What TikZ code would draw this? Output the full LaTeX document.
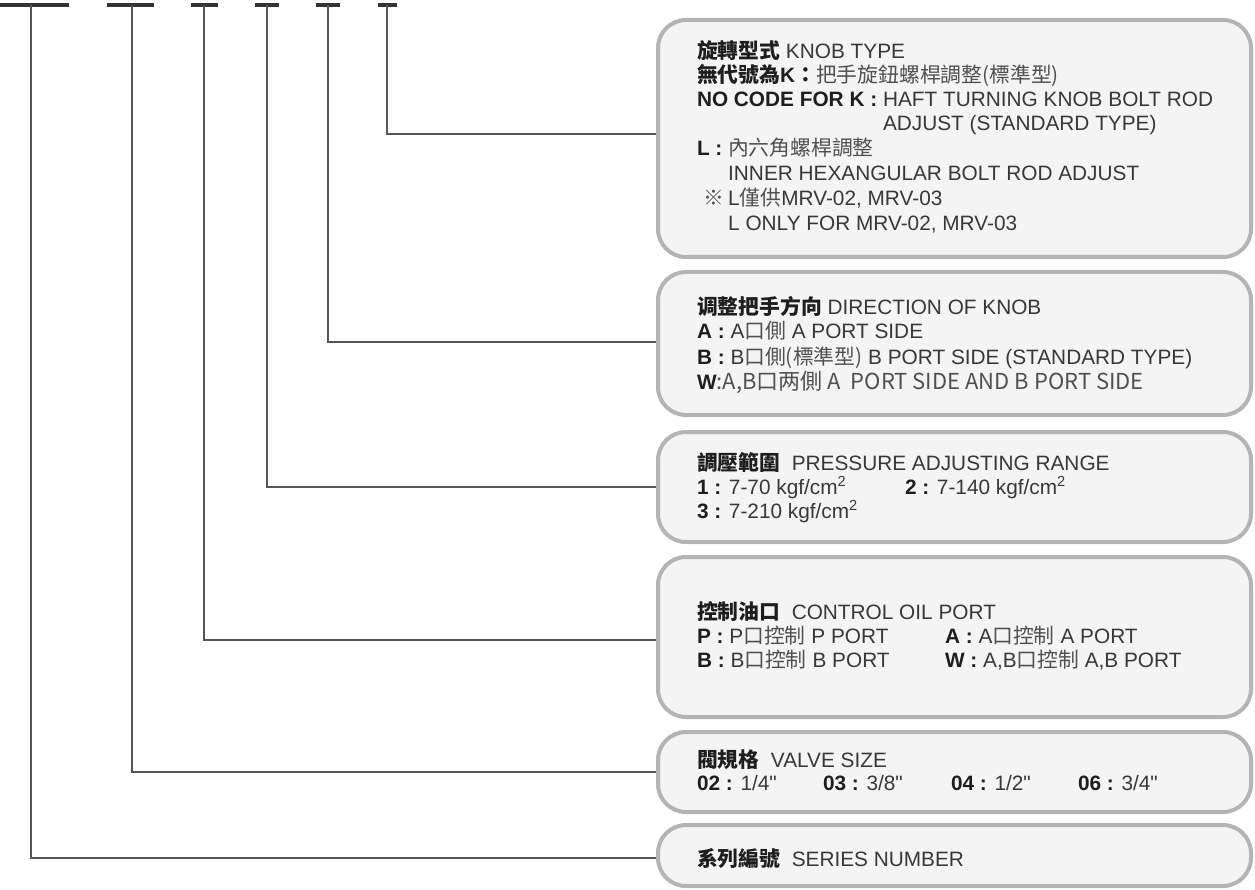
\documentclass[tikz,border=0pt]{standalone}
\usepackage{fontspec}
\setmainfont{Liberation Sans}
\newfontfamily\cjk{Noto Sans CJK TC}
\newfontfamily\qf{Liberation Sans}[Ligatures=TeXOff]
\definecolor{txt}{HTML}{383838}
\definecolor{lbl}{HTML}{1E1E1E}
\definecolor{cjkt}{HTML}{505050}
\definecolor{bord}{HTML}{B4B4B4}
\definecolor{fillc}{HTML}{F4F4F4}
\definecolor{connc}{HTML}{555555}
\definecolor{dashc}{HTML}{333333}
\tikzset{
 box/.style={draw=bord, line width=4pt, fill=fillc, rounded corners=28pt, inner sep=0pt},
 ln/.style={anchor=base west, inner sep=0pt, outer sep=0pt, text=txt, font=\fontsize{20.8}{24}\selectfont},
 conn/.style={draw=connc, line width=1.8pt},
 topdash/.style={draw=dashc, line width=4pt}
}
\newcommand\bl[1]{{\color{lbl}\bfseries #1}}
\newcommand\ck[1]{{\color{cjkt}\cjk #1}}
\newcommand\ckb[1]{{\color{lbl}\cjk\bfseries #1}}
\newcommand\qq{{\qf"}}
\begin{document}
\begin{tikzpicture}[x=1pt,y=-1pt]
\useasboundingbox (0,0) rectangle (1255,890);
% top dashes
\draw[topdash] (0,5) -- (69,5);
\draw[topdash] (107,5) -- (154,5);
\draw[topdash] (191,5) -- (218,5);
\draw[topdash] (255,5) -- (279,5);
\draw[topdash] (316,5) -- (340,5);
\draw[topdash] (378,5) -- (397,5);
\coordinate (t1) at (31,5);
\coordinate (t2) at (132,5);
\coordinate (t3) at (204,5);
\coordinate (t4) at (267,5);
\coordinate (t5) at (328,5);
\coordinate (t6) at (387,5);
\coordinate (c1) at (660,134);
\coordinate (c2) at (660,342);
\coordinate (c3) at (660,487);
\coordinate (c4) at (660,640);
\coordinate (c5) at (660,772);
\coordinate (c6) at (660,858);
\draw[conn] (t6) |- (c1);
\draw[conn] (t5) |- (c2);
\draw[conn] (t4) |- (c3);
\draw[conn] (t3) |- (c4);
\draw[conn] (t2) |- (c5);
\draw[conn] (t1) |- (c6);
% boxes
\node[box, minimum width=593pt, minimum height=237pt] (b1) at (954.5,138.5) {};
\node[box, minimum width=593pt, minimum height=143pt] (b2) at (954.5,343.5) {};
\node[box, minimum width=593pt, minimum height=110pt] (b3) at (954.5,487) {};
\node[box, minimum width=593pt, minimum height=160pt] (b4) at (954.5,637) {};
\node[box, minimum width=593pt, minimum height=80pt] (b5) at (954.5,772) {};
\node[box, minimum width=593pt, minimum height=61pt] (b6) at (954.5,855.5) {};
% box 1
\node[ln] (a1) at (697,59) {\ckb{旋轉型式}\ KNOB TYPE};
\node[ln] (a2) at (697,83) {\ckb{無代號為}\bl{K}\ckb{：}\ck{把手旋鈕螺桿調整(標準型)}};
\node[ln] (a3) at (697,107) {\bl{NO CODE FOR K :} HAFT TURNING KNOB BOLT ROD};
\node[ln] (a4) at (697,131) {\phantom{\bl{NO CODE FOR K :} }ADJUST (STANDARD TYPE)};
\node[ln] (a5) at (697,156) {\bl{L :} \ck{內六角螺桿調整}};
\node[ln] (a6) at (697,181) {\phantom{\bl{L :} }INNER HEXANGULAR BOLT ROD ADJUST};
\node[ln] (a7) at (697,206) {\phantom{\bl{L :} }L\ck{僅供}MRV-02, MRV-03};
\node[ln] (a7m) at (703,206) {\ck{※}};
\node[ln] (a8) at (697,231) {\phantom{\bl{L :} }L ONLY FOR MRV-02, MRV-03};
% box 2
\node[ln] (e1) at (697,315) {\ckb{调整把手方向} DIRECTION OF KNOB};
\node[ln] (e2) at (697,339) {\bl{A :} A\ck{口側} A PORT SIDE};
\node[ln] (e3) at (697,364) {\bl{B :} B\ck{口側(標準型)} B PORT SIDE (STANDARD TYPE)};
\node[ln] (e4) at (697,389) {\bl{W}{\fontsize{22}{24}\selectfont\ck{:A,B口两側 A\ \ PORT SIDE AND B PORT SIDE}}};
% box 3
\node[ln] (p1) at (697,470) {\ckb{調壓範圍}\ \ PRESSURE ADJUSTING RANGE};
\node[ln] (p2) at (697,494) {\bl{1 :} 7-70 kgf/cm\textsuperscript{2}};
\node[ln] (p3) at (905,494) {\bl{2 :} 7-140 kgf/cm\textsuperscript{2}};
\node[ln] (p4) at (697,518) {\bl{3 :} 7-210 kgf/cm\textsuperscript{2}};
% box 4
\node[ln] (o1) at (697,619) {\ckb{控制油口}\ \ CONTROL OIL PORT};
\node[ln] (o2) at (697,643) {\bl{P :} P\ck{口控制} P PORT};
\node[ln] (o3) at (945,643) {\bl{A :} A\ck{口控制} A PORT};
\node[ln] (o4) at (697,667) {\bl{B :} B\ck{口控制} B PORT};
\node[ln] (o5) at (945,667) {\bl{W :} A,B\ck{口控制} A,B PORT};
% box 5
\node[ln] (v1) at (697,767) {\ckb{閥規格}\ \ VALVE SIZE};
\node[ln] (v2) at (697,790) {\bl{02 :} 1/4\qq};
\node[ln] (v3) at (823,790) {\bl{03 :} 3/8\qq};
\node[ln] (v4) at (951,790) {\bl{04 :} 1/2\qq};
\node[ln] (v5) at (1078,790) {\bl{06 :} 3/4\qq};
% box 6
\node[ln] (s1) at (697,866) {\ckb{系列編號}\ \ SERIES NUMBER};
\end{tikzpicture}
\end{document}
